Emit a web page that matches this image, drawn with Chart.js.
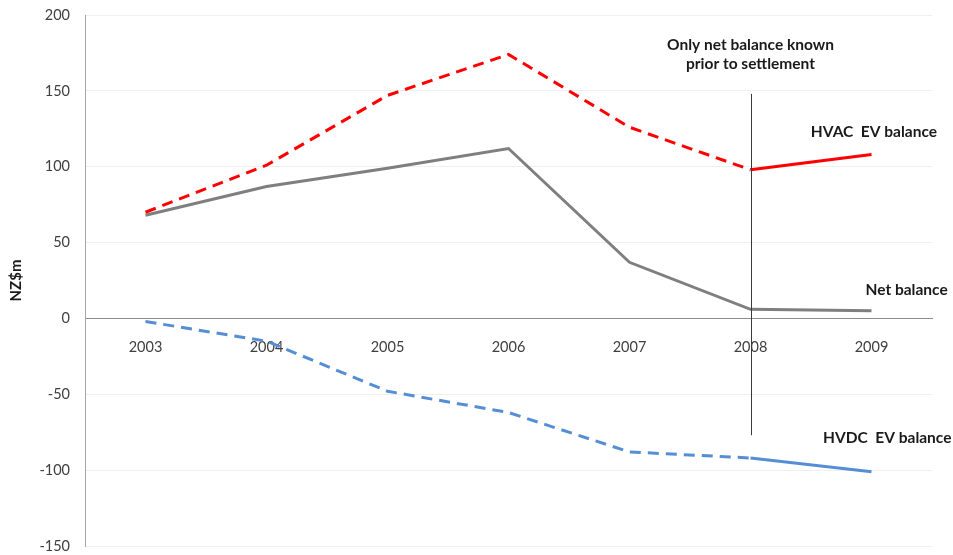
<!DOCTYPE html>
<html>
<head>
<meta charset="utf-8">
<script src="https://cdn.jsdelivr.net/npm/chart.js@4"></script>
<style>
  html, body { margin: 0; padding: 0; background: #fff; }
  #wrap { width: 953px; height: 555px; }
</style>
</head>
<body>
<div id="wrap"><canvas id="c" width="953" height="555"></canvas></div>
<script>
// Years on the horizontal axis
const years = ['2003', '2004', '2005', '2006', '2007', '2008', '2009'];

// Balances in NZ$m
const hvacBalance = [70, 101, 147, 174, 126, 98, 108];
const netBalance  = [68, 87, 99, 112, 37, 6, 5];
const hvdcBalance = [-2, -15, -48, -62, -88, -92, -101];

// Vertical axis range and step
const yMin = -150, yMax = 200, yStep = 50;

// Index of the year from which only the net balance was known
const settlementIndex = 5;

// Text notes placed in data space: [x index, y value, text]
const notes = [
  [5, 180, 'Only net balance known'],
  [5, 168, 'prior to settlement'],
  [6.02, 123, 'HVAC  EV balance'],
  [6.29, 18.5, 'Net balance'],
  [6.13, -79, 'HVDC  EV balance']
];

const FONT = 'Lato, "Open Sans", "Liberation Sans", sans-serif';

// Dashed up to the settlement year, solid afterwards
const dashUntilSettlement = (dash) => ({
  borderDash: ctx => ctx.p0DataIndex >= settlementIndex ? [] : dash
});

const overlay = {
  id: 'overlay',
  afterDatasetsDraw(chart) {
    const { ctx, scales: { x, y } } = chart;
    ctx.save();
    // settlement marker
    const sx = Math.round(x.getPixelForValue(settlementIndex)) + 0.5;
    ctx.strokeStyle = '#3a3a3a';
    ctx.lineWidth = 1;
    ctx.beginPath();
    ctx.moveTo(sx, y.getPixelForValue(148));
    ctx.lineTo(sx, y.getPixelForValue(-77));
    ctx.stroke();
    // notes
    ctx.fillStyle = '#1a1a1a';
    ctx.font = 'bold 15.5px ' + FONT;
    ctx.textBaseline = 'middle';
    ctx.textAlign = 'center';
    for (const [xi, yv, text] of notes) {
      ctx.fillText(text, x.getPixelForValue(xi), y.getPixelForValue(yv));
    }
    ctx.restore();
  }
};

new Chart(document.getElementById('c'), {
  type: 'line',
  data: {
    labels: years,
    datasets: [
      {
        label: 'HVAC EV balance',
        data: hvacBalance,
        borderColor: '#ff0000',
        borderWidth: 3,
        borderDash: [11, 7],
        segment: dashUntilSettlement([11, 7]),
        pointRadius: 0,
        tension: 0
      },
      {
        label: 'Net balance',
        data: netBalance,
        borderColor: '#7f7f7f',
        borderWidth: 3,
        pointRadius: 0,
        tension: 0
      },
      {
        label: 'HVDC EV balance',
        data: hvdcBalance,
        borderColor: '#558ed5',
        borderWidth: 3,
        borderDash: [11, 7],
        segment: dashUntilSettlement([11, 7]),
        pointRadius: 0,
        tension: 0
      }
    ]
  },
  options: {
    responsive: false,
    animation: false,
    layout: { padding: { left: 0, top: 15, right: 21, bottom: 9 } },
    plugins: {
      legend: { display: false },
      tooltip: { enabled: false }
    },
    scales: {
      x: {
        position: { y: 0 },
        offset: true,
        grid: { display: false, drawTicks: false },
        border: { display: true, color: '#8c8c8c', width: 1 },
        ticks: {
          color: '#404040',
          font: { family: FONT, size: 14.5 },
          padding: 20,
          maxRotation: 0
        },
        afterFit(scale) { scale.height = 0; }
      },
      y: {
        min: yMin,
        max: yMax,
        afterFit(scale) {
          scale.width = 85;
          scale.paddingTop = 0;
          scale.paddingBottom = 0;
        },
        grid: { color: '#efefef', drawTicks: false },
        border: { display: true, color: '#a6a6a6', width: 1 },
        ticks: {
          stepSize: yStep,
          color: '#404040',
          font: { family: FONT, size: 14.5 },
          padding: 15
        },
        title: {
          display: true,
          text: 'NZ$m',
          color: '#1a1a1a',
          font: { family: FONT, size: 15, weight: 'bold' },
          padding: { top: 7, bottom: 0 }
        }
      }
    }
  },
  plugins: [overlay]
});
</script>
</body>
</html>
